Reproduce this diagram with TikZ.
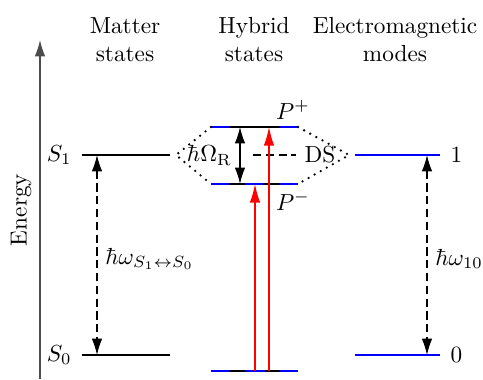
\documentclass[tikz,border=0pt]{standalone}
\usetikzlibrary{arrows.meta,positioning,calc}
\tikzset{
level/.style={line width=1pt},
matterlevel/.style={level,black},
modelevel/.style={level,blue},
gap/.style={{Latex[length=7pt,width=4.5pt]}-{Latex[length=7pt,width=4.5pt]},line width=.5pt,dash pattern=on 3.5pt off 2pt},
split/.style={{Latex[length=7pt,width=4.5pt]}-{Latex[length=7pt,width=4.5pt]},semithick},
pump/.style={-{Latex[length=8pt,width=4.5pt]},line width=.6pt,red},
coupling/.style={line width=1.1pt,line cap=round,dash pattern=on 0pt off 3pt},
axis/.style={-{Latex[length=7pt,width=4.5pt]},semithick,gray!60!black},
heading/.style={align=center}
}
\begin{document}
\begin{tikzpicture}[x=0.43pt,y=-0.43pt]
\useasboundingbox (0,0) rectangle (483,379);
% energy axis
\coordinate (axis0) at (40,379);
\coordinate (axis1) at (40,40);
\draw[axis](axis0)--(axis1);
\node[rotate=90](energy) at (21,210){Energy};
% headings
\node[heading](matterhead) at (125,40){Matter\\states};
\node[heading](hybridhead) at (254,40){Hybrid\\states};
\node[heading](modehead) at (395,40){Electromagnetic\\modes};
% matter states
\coordinate (S1a) at (82,155); \coordinate (S1b) at (170,155);
\coordinate (S0a) at (82,355); \coordinate (S0b) at (170,355);
\draw[matterlevel](S1a)--(S1b);
\draw[matterlevel](S0a)--(S0b);
\node[left=1pt of S1a](S1){$S_1$};
\node[left=1pt of S0a](S0){$S_0$};
\coordinate (S1m) at (97,155); \coordinate (S0m) at (97,355);
\draw[gap](S1m)--node[right,pos=.52]{$\hbar\omega_{S_1\leftrightarrow S_0}$}(S0m);
% hybrid states
\coordinate (Ppa) at (211,127); \coordinate (Ppb) at (298,127);
\coordinate (Pma) at (211,184); \coordinate (Pmb) at (298,184);
\coordinate (Ga) at (211,371); \coordinate (Gb) at (298,371);
\draw[modelevel](Ppa)--(Ppb);
\draw[modelevel](Pma)--(Pmb);
\draw[modelevel](Ga)--(Gb);
\draw[matterlevel]($(Ppa)+(19,0)$)--($(Ppb)+(-18,0)$);
\draw[matterlevel]($(Pma)+(19,0)$)--($(Pma)+(34,0)$);
\draw[matterlevel]($(Pmb)+(-35,0)$)--($(Pmb)+(-18,0)$);
\draw[matterlevel]($(Ga)+(19,0)$)--($(Ga)+(34,0)$);
\draw[matterlevel]($(Gb)+(-33,0)$)--($(Gb)+(-18,0)$);
\node(Pp) at (293,110){$P^{+}$};
\node(Pm) at (293,201){$P^{-}$};
\coordinate (Rp) at (240,127); \coordinate (Rm) at (240,184);
\draw[split](Rp)--(Rm);
\node[left=0pt of $(Rp)!.5!(Rm)$](rabi){$\hbar\Omega_{\mathrm{R}}$};
\node(DS) at (320,155){DS};
\coordinate (DSa) at (253,155);
\draw[gap,-](DSa)--(DS.west);
% pumping
\coordinate (Um) at (255,371); \coordinate (Tm) at (255,184);
\coordinate (Up) at (269,371); \coordinate (Tp) at (269,127);
\draw[pump](Um)--(Tm);
\draw[pump](Up)--(Tp);
% electromagnetic modes
\coordinate (M1a) at (355,155); \coordinate (M1b) at (440,155);
\coordinate (M0a) at (355,355); \coordinate (M0b) at (440,355);
\draw[modelevel](M1a)--(M1b);
\draw[modelevel](M0a)--(M0b);
\node[right=1pt of M1b](M1){$1$};
\node[right=1pt of M0b](M0){$0$};
\coordinate (M1m) at (427,155); \coordinate (M0m) at (427,355);
\draw[gap](M1m)--node[right,pos=.52]{$\hbar\omega_{10}$}(M0m);
% coupling
\coordinate (CL) at (176,155); \coordinate (CR) at (349,155);
\draw[coupling](Ppa)--(CL)--(Pma);
\draw[coupling](Ppb)--(CR)--(Pmb);
\end{tikzpicture}
\end{document}
